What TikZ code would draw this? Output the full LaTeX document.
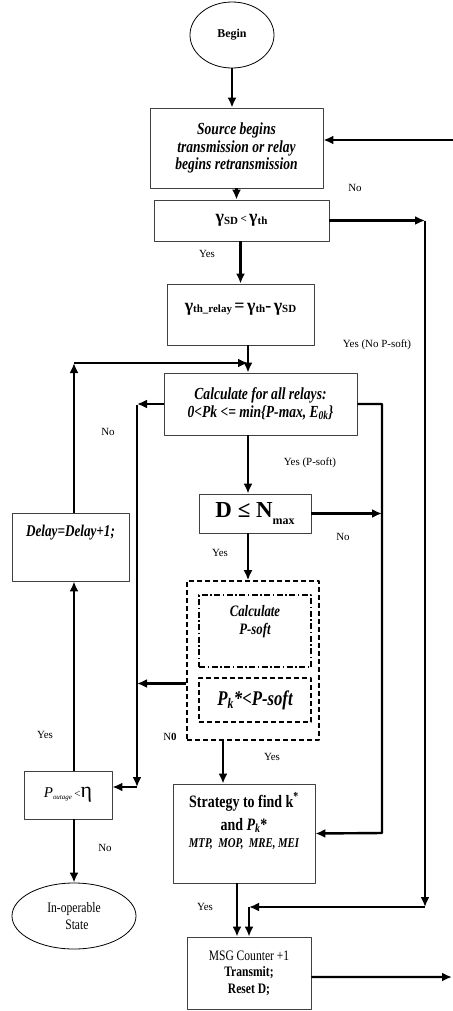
\documentclass[tikz,border=0pt]{standalone}
\usepackage{fontspec}
\setmainfont{Liberation Serif}
\newfontfamily\condfont[FakeStretch=0.8]{Liberation Serif}
\usetikzlibrary{arrows.meta,shapes.geometric}
\newcommand\fsz[2]{\fontsize{#1}{#2}\selectfont}
\newcommand\gsym[1]{{\fsz{18}{18}γ}\raisebox{-1.5bp}{\fsz{11}{11}#1}}
\begin{document}
\begin{tikzpicture}[x=1bp,y=-1bp,>={Latex[length=10bp,width=9bp]},line join=bevel,
  box/.style={draw=black!75,line width=0.8bp,inner sep=0pt,align=center},
  oval/.style={draw=black,line width=0.8bp,ellipse,inner sep=0pt,align=center},
  dashbox/.style={draw,line width=1.6bp,dash pattern=on 5bp off 3bp,inner sep=0pt},
  dotbox/.style={draw,line width=1.4bp,dash pattern=on 6bp off 2.5bp on 1.5bp off 2.5bp,inner sep=0pt},
  arr/.style={->,line width=2.4bp},
  lbl/.style={font=\fsz{11}{11}},
  bi/.style={font=\condfont\bfseries\itshape\fsz{17}{17.5}}]
\useasboundingbox (0,0) rectangle (453,1011);
%%
  % Node: begin
  \node[oval,minimum width=84bp,minimum height=66bp,font=\bfseries\fsz{12}{12}] (begin) at (232,35) {Begin};
  % Node: source
  \node[box,bi,minimum width=173bp,minimum height=80bp] (src) at (236.5,148) {Source begins\\transmission or relay\\begins retransmission};
  % Node: gamma SD
  \node[box,minimum width=175bp,minimum height=41bp,font=\bfseries] (gsd) at (241.5,220.5) {\gsym{SD} {\fsz{11}{11}<} \gsym{th}};
  % Node: gamma relay
  \node[box,minimum width=147bp,minimum height=61bp] (grel) at (240.5,314.5) {};
  \node[font=\bfseries] (grelt) at (240.5,309) {\gsym{th\_relay} {\fsz{18}{18}=} \gsym{th}{\fsz{18}{18}-} \gsym{SD}};
  % Node: calculate
  \node[box,bi,minimum width=193bp,minimum height=62bp] (calc) at (260.5,404) {Calculate for all relays:\\0<Pk <= min\{P-max, E\textsubscript{0k}\}};
  % Node: D box
  \node[box,minimum width=112bp,minimum height=39bp,font=\bfseries\fsz{23}{23}] (dbox) at (255,513.5) {D ≤ N\raisebox{-7bp}{\fsz{12}{12}max}};
  % Node: P-soft group
  \node[dashbox,minimum width=132bp,minimum height=159bp] (outer) at (253,660.5) {};
  \node[dotbox,minimum width=112bp,minimum height=72bp] (psoft) at (255,631) {};
  \node[bi,font=\condfont\bfseries\itshape\fsz{16}{18},align=center] (psoftt) at (255,622) {Calculate\\P-soft};
  \node[dashbox,line width=1.4bp,minimum width=112bp,minimum height=44bp,font=\condfont\bfseries\itshape\fsz{21}{21}] (pks) at (255,700) {P\textsubscript{k}*<P-soft};
  % Node: strategy
  \node[box,minimum width=142bp,minimum height=99bp] (strat) at (244,833.5) {};
  \node[align=center,font=\condfont\bfseries\fsz{17.5}{23}] (stratt) at (244,821) {Strategy to find k\textsuperscript{*}\\and \textit{P\textsubscript{k}}*\\[-6bp]{\itshape\fsz{13.5}{15}MTP,\ \ MOP,\ \ MRE, MEI}};
  % Node: message
  \node[box,minimum width=124bp,minimum height=72bp,font=\condfont\fsz{14.5}{16.5}] (msg) at (249,973) {MSG Counter +1\\\textbf{Transmit;}\\\textbf{Reset D;}};
  % Node: delay
  \node[box,minimum width=117bp,minimum height=68bp] (delay) at (70.5,547) {};
  \node[bi,font=\condfont\bfseries\itshape\fsz{16.5}{16}] (delayt) at (70.5,533) {Delay=Delay+1;};
  % Node: outage
  \node[box,minimum width=88bp,minimum height=48bp] (pout) at (68,795) {\itshape\fsz{15}{15}P\raisebox{-2bp}{\fsz{7}{7}outage}\,\upshape\fsz{11}{11}<{\fsz{22}{22}η}};
  % Node: in-operable
  \node[oval,minimum width=124bp,minimum height=66bp,font=\condfont\fsz{14.5}{17}] (inop) at (74,916) {In-operable\\\ \ State};
%%
  \coordinate (cx) at (248,363);
  \coordinate (ltop) at (74,363);
  \coordinate (lline) at (137,405);
  \coordinate (rmid) at (382,833);
  \coordinate (rbot) at (425,907);
  \coordinate (sx) at (223,0);
  \coordinate (tx) at (237,0);
  \coordinate (rin) at (453,140);
  \coordinate (rout) at (452,977);
  \coordinate (pin) at ([yshift=8bp]pout.east);
  \coordinate (gout) at ([yshift=-23bp]outer.west);
  \coordinate (mout) at ([yshift=-4bp]msg.east);
  % Edge: begin -> source
  \draw[arr] (begin) -- (begin |- src.north);
  % Edge: source -> gamma SD
  \draw[arr] (src.south) -- (src.south |- gsd.north);
  % Edge: gamma SD -> gamma relay
  \draw[arr] (grel.north |- gsd.south) -- (grel.north);
  % Edge: gamma SD -> right line (No)
  \draw[arr] (gsd.east) -- (gsd.east -| rbot);
  \draw[arr] (rbot |- gsd.east) -- (rbot);
  \draw[arr] (rbot) -- (rbot -| msg.north);
  \draw[arr] (rbot -| msg.north) -- (msg.north);
  % Edge: gamma relay -> calculate
  \draw[arr] (cx |- grel.south) -- (cx |- calc.north);
  % Edge: delay -> calculate
  \draw[arr] (ltop |- delay.north) -- (ltop);
  \draw[arr] (ltop) -- (cx);
  % Edge: calculate -> outage (No)
  \draw[arr] (calc.west) -- (calc.west -| lline);
  \draw[arr] (lline) -- (lline |- pin);
  \draw[arr] (lline |- pin) -- (pin);
  % Edge: calculate -> strategy (No P-soft)
  \draw[arr] (calc.east) -| (rmid) -- (strat.east);
  % Edge: calculate -> D box
  \draw[arr] (cx |- calc.south) -- (cx |- dbox.north);
  % Edge: D box -> right line (No)
  \draw[arr] (dbox.east) -- (dbox.east -| rmid);
  % Edge: D box -> P-soft
  \draw[arr] (cx |- dbox.south) -- (cx |- outer.north);
  % Edge: P-soft -> left line (No)
  \draw[arr] (gout) -- (gout -| lline);
  % Edge: P-soft -> strategy
  \draw[arr] (sx |- outer.south) -- (sx |- strat.north);
  % Edge: strategy -> message
  \draw[arr] (tx |- strat.south) -- (tx |- msg.north);
  % Edge: message -> out
  \draw[arr] (mout) -- (rout);
  % Edge: in -> source
  \draw[arr] (rin) -- (rin -| src.east);
  % Edge: outage -> delay (Yes)
  \draw[arr] (ltop |- pout.north) -- (ltop |- delay.south);
  % Edge: outage -> in-operable (No)
  \draw[arr] (ltop |- pout.south) -- (inop.north);
  % Labels
  \node[lbl] (l1) at (355,188) {No};
  \node[lbl] (l2) at (207,254) {Yes};
  \node[lbl] (l3) at (377,345) {Yes (No P-soft)};
  \node[lbl] (l4) at (108,432) {No};
  \node[lbl] (l5) at (310,463) {Yes (P-soft)};
  \node[lbl] (l6) at (343,537) {No};
  \node[lbl] (l7) at (220,553) {Yes};
  \node[lbl] (l8) at (45,735) {Yes};
  \node[lbl] (l9) at (170,737) {N\textbf{0}};
  \node[lbl] (l10) at (272,757) {Yes};
  \node[lbl] (l11) at (105,848) {No};
  \node[lbl] (l12) at (205,907) {Yes};
%
\end{tikzpicture}
\end{document}
